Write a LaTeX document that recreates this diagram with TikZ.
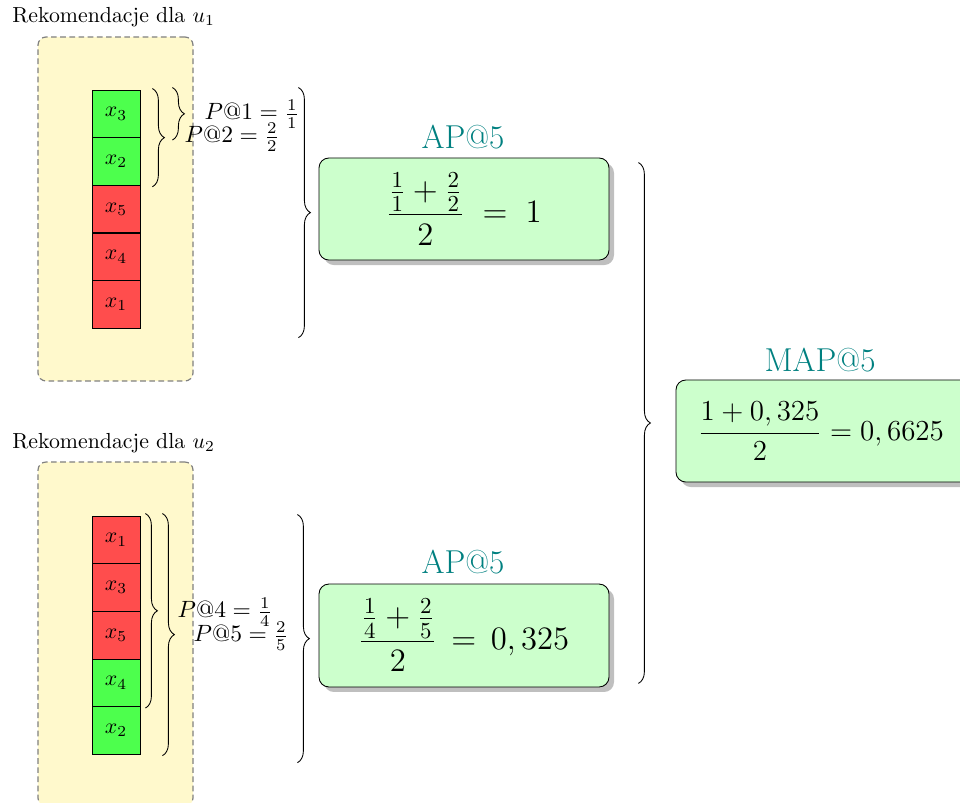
\RequirePackage{fix-cm}
\documentclass[tikz,border=0pt]{standalone}
\usetikzlibrary{decorations.pathreplacing,shadows,calc}
\definecolor{lemon}{RGB}{255,249,204}
\definecolor{cellgreen}{RGB}{77,255,77}
\definecolor{cellred}{RGB}{255,77,77}
\definecolor{boxgreen}{RGB}{204,255,204}

\begin{document}
\begin{tikzpicture}[x=0.4587pt, y=-0.4587pt,
  panel/.style={draw=black!50, line width=0.55pt, dash pattern=on 2.6pt off 1.6pt, fill=lemon,
    rounded corners=3.7pt, minimum width=71.1pt, minimum height=157.8pt, inner sep=0pt},
  cell/.style={draw=black, line width=0.4pt, minimum width=22pt,
    minimum height=21.86pt, inner sep=0pt},
  hit/.style={cell, fill=cellgreen},
  miss/.style={cell, fill=cellred},
  brc/.style={decorate, decoration={brace, amplitude=5.5pt}, line width=0.4pt},
  result/.style={draw, fill=boxgreen, rounded corners=4.5pt,
    minimum width=133pt, minimum height=46.8pt, inner sep=0pt,
    drop shadow={shadow xshift=2.3pt, shadow yshift=-2.3pt, fill=black!25, opacity=1}},
  title/.style={text=teal, font=\fontsize{15.2}{18}\selectfont, anchor=base, inner sep=0pt},
  bigmath/.style={font=\fontsize{15}{18}\selectfont},
  midmath/.style={font=\fontsize{13.3}{16}\selectfont},
  prec/.style={anchor=west, font=\fontsize{10.8}{13}\selectfont}
]
\useasboundingbox (0,0) rectangle (960,802);
\clip (0,0) rectangle (960,802);

% panels holding the two recommendation lists
\node[panel] (pan1) at (115.5,209) {};
\node[panel] (pan2) at (115.5,634) {};
\node[anchor=base west, inner sep=0pt] (cap1) at (12,22.5) {Rekomendacje dla $u_1$};
\node[anchor=base west, inner sep=0pt] (cap2) at (12,448) {Rekomendacje dla $u_2$};

% ranked items for u1
\node[hit]  (c1a) at (116,113.8) {$x_3$};
\node[hit]  (c1b) at (116,161.5) {$x_2$};
\node[miss] (c1c) at (116,209.1) {$x_5$};
\node[miss] (c1d) at (116,256.8) {$x_4$};
\node[miss] (c1e) at (116,304.4) {$x_1$};

% ranked items for u2
\node[miss] (c2a) at (116,539.8) {$x_1$};
\node[miss] (c2b) at (116,587.5) {$x_3$};
\node[miss] (c2c) at (116,635.1) {$x_5$};
\node[hit]  (c2d) at (116,682.8) {$x_4$};
\node[hit]  (c2e) at (116,730.4) {$x_2$};

% precision braces for u1
\draw[brc] ($(c1a.north east)+(12,-1)$) -- ($(c1b.south east)+(12,1)$);
\draw[brc] ($(c1a.north east)+(32,-2)$) -- ($(c1a.south east)+(32,2)$);
\node[prec] (p1) at (197,114) {$P@1=\frac{1}{1}$};
\node[prec] (p2) at (177,137) {$P@2=\frac{2}{2}$};
\draw[brc] ($(c1a.north east)+(158,-2)$) -- ($(c1e.south east)+(158,9)$);

% precision braces for u2
\draw[brc] ($(c2a.north east)+(5,-2)$) -- ($(c2d.south east)+(5,1)$);
\draw[brc] ($(c2a.north east)+(22,-2)$) -- ($(c2e.south east)+(22,1)$);
\node[prec] (p4) at (170,612) {$P@4=\frac{1}{4}$};
\node[prec] (p5) at (186,636) {$P@5=\frac{2}{5}$};
\draw[brc] ($(c2a.north east)+(157,-1)$) -- ($(c2e.south east)+(157,8)$);

% average precision per user
\node[result, bigmath] (ap1) at (464,209)
  {$\displaystyle\frac{\frac{1}{1}+\frac{2}{2}}{2}\;=\;1$};
\node[title] (t1) at (463,148) {AP@5};
\node[result, bigmath, minimum height=47.2pt] (ap2) at (464,635.5)
  {$\displaystyle\frac{\frac{1}{4}+\frac{2}{5}}{2}\,=\,0,325$};
\node[title] (t2) at (463,573) {AP@5};

% mean over users (box runs past the right edge)
\draw[brc] ($(ap1.north east)+(29,5)$) -- ($(ap2.south east)+(29,-4)$);
\node[result, midmath, minimum width=137.6pt] (map) at (826,431)
  {$\displaystyle\frac{1+0,325}{2}=0,6625$\kern4.6pt};
\node[title] (t3) at (820,371) {MAP@5};
\end{tikzpicture}
\end{document}
